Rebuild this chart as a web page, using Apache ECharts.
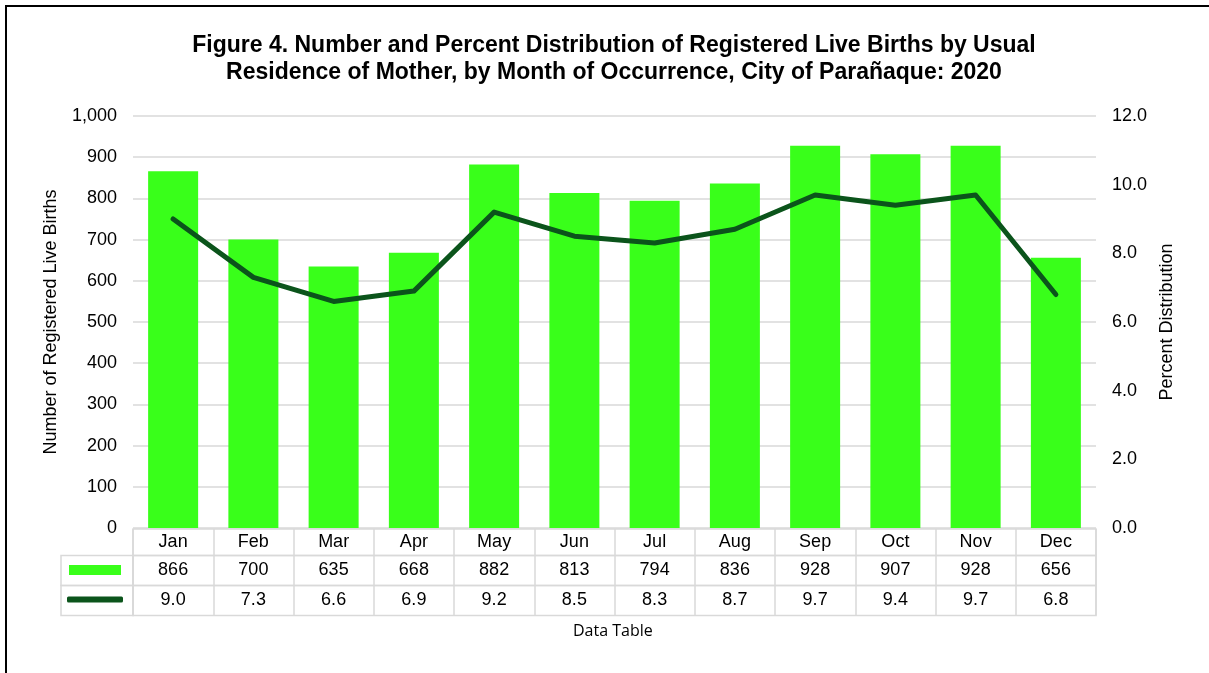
<!DOCTYPE html>
<html>
<head>
<meta charset="utf-8">
<style>
html,body{margin:0;padding:0;background:#fff;}
#c{width:1209px;height:673px;}
</style>
<script src="https://cdn.jsdelivr.net/npm/echarts@6/dist/echarts.min.js"></script>
</head>
<body>
<div id="c"></div>
<script>
var months = ['Jan','Feb','Mar','Apr','May','Jun','Jul','Aug','Sep','Oct','Nov','Dec'];
var births = [866, 700, 635, 668, 882, 813, 794, 836, 928, 907, 928, 656];
var percent = [9.0, 7.3, 6.6, 6.9, 9.2, 8.5, 8.3, 8.7, 9.7, 9.4, 9.7, 6.8];
var leftTicks = {min: 0, max: 1000, interval: 100};
var rightTicks = {min: 0, max: 12, interval: 2};

var FONT = 'Liberation Sans, Arial, sans-serif';
var FS = 18;
var BAR = '#39ff1a';
var LINE = '#0b541b';
var GRIDC = '#d9d9d9';

var chart = echarts.init(document.getElementById('c'), null, {renderer: 'canvas'});

function rowAxis(gridIndex, fmt) {
  return {
    type: 'category', gridIndex: gridIndex, data: months, position: 'bottom',
    axisLine: {show: false}, axisTick: {show: false},
    splitLine: {show: true, interval: 0, lineStyle: {color: GRIDC, width: 1.5}},
    axisLabel: {inside: true, interval: 0, margin: fmt.margin, verticalAlign: 'middle',
      color: '#000', fontSize: FS, fontFamily: FONT, formatter: fmt.f}
  };
}
function hiddenY(gridIndex) {
  return {type: 'value', gridIndex: gridIndex, show: false};
}
var tableGrid = {show: true, borderColor: GRIDC, borderWidth: 1.5, backgroundColor: 'transparent'};

var option = {
  animation: false,
  backgroundColor: '#fff',
  title: {
    text: 'Figure 4. Number and Percent Distribution of Registered Live Births by Usual\nResidence of Mother, by Month of Occurrence, City of Parañaque: 2020',
    left: 609, top: 27, textAlign: 'center',
    textStyle: {fontFamily: FONT, fontWeight: 'bold', fontSize: 23, lineHeight: 27, color: '#000'}
  },
  legend: [
    {data: ['Number'], left: 69, top: 565, padding: 0, itemWidth: 52, itemHeight: 10, icon: 'rect',
     selectedMode: false, formatter: function(){return '';}, textStyle: {fontSize: 1}},
    {data: ['Percent'], left: 67, top: 596.5, padding: 0, itemWidth: 56, itemHeight: 6, icon: 'roundRect',
     selectedMode: false, formatter: function(){return '';}, textStyle: {fontSize: 1}}
  ],
  grid: [
    {left: 133, right: 113, top: 116, height: 412},
    Object.assign({left: 133, right: 113, top: 529, height: 26.5}, tableGrid),
    Object.assign({left: 133, right: 113, top: 555.5, height: 30}, tableGrid),
    Object.assign({left: 133, right: 113, top: 585.5, height: 30}, tableGrid),
    Object.assign({left: 61, width: 72, top: 555.5, height: 30}, tableGrid),
    Object.assign({left: 61, width: 72, top: 585.5, height: 30}, tableGrid)
  ],
  xAxis: [
    {type: 'category', gridIndex: 0, data: months, axisLine: {show: false}, axisTick: {show: false}, axisLabel: {show: false}},
    rowAxis(1, {margin: 13, f: function(v){return v;}}),
    rowAxis(2, {margin: 15, f: function(v, i){return String(births[i]);}}),
    rowAxis(3, {margin: 15, f: function(v, i){return percent[i].toFixed(1);}}),
    {type: 'category', gridIndex: 4, data: [''], show: false},
    {type: 'category', gridIndex: 5, data: [''], show: false}
  ],
  yAxis: [
    {type: 'value', gridIndex: 0, min: leftTicks.min, max: leftTicks.max, interval: leftTicks.interval,
     name: 'Number of Registered Live Births', nameLocation: 'middle', nameGap: 73, nameRotate: 90,
     nameTextStyle: {fontFamily: FONT, fontSize: FS, color: '#000'},
     axisLine: {show: false}, axisTick: {show: false},
     axisLabel: {margin: 16, color: '#000', fontSize: FS, fontFamily: FONT,
       formatter: function(v){return v.toLocaleString('en-US');}},
     splitLine: {show: true, lineStyle: {color: GRIDC, width: 1.5}}},
    {type: 'value', gridIndex: 0, position: 'right', min: rightTicks.min, max: rightTicks.max, interval: rightTicks.interval,
     name: 'Percent Distribution', nameLocation: 'middle', nameGap: 62, nameRotate: 90,
     nameTextStyle: {fontFamily: FONT, fontSize: FS, color: '#000'},
     axisLine: {show: false}, axisTick: {show: false},
     axisLabel: {margin: 16, color: '#000', fontSize: FS, fontFamily: FONT,
       formatter: function(v){return v.toFixed(1);}},
     splitLine: {show: false}},
    hiddenY(1), hiddenY(2), hiddenY(3), hiddenY(4), hiddenY(5)
  ],
  series: [
    {name: 'Number', type: 'bar', xAxisIndex: 0, yAxisIndex: 0, data: births, barWidth: 50,
     itemStyle: {color: BAR}, color: BAR},
    {name: 'Percent', type: 'line', xAxisIndex: 0, yAxisIndex: 1, data: percent, symbol: 'none',
     color: LINE, itemStyle: {color: LINE},
     lineStyle: {color: LINE, width: 5, cap: 'round', join: 'round'}, z: 5}
  ],
  graphic: [
    {type: 'rect', shape: {x: 6, y: 6, width: 1400, height: 900}, silent: true,
     style: {fill: 'none', stroke: '#000', lineWidth: 2}},
    {type: 'text', left: 573, top: 623, silent: true,
     style: {text: 'Data Table', fontFamily: 'Open Sans, Noto Sans, sans-serif', fontSize: 16, fill: '#000'}}
  ]
};
chart.setOption(option);
</script>
</body>
</html>
